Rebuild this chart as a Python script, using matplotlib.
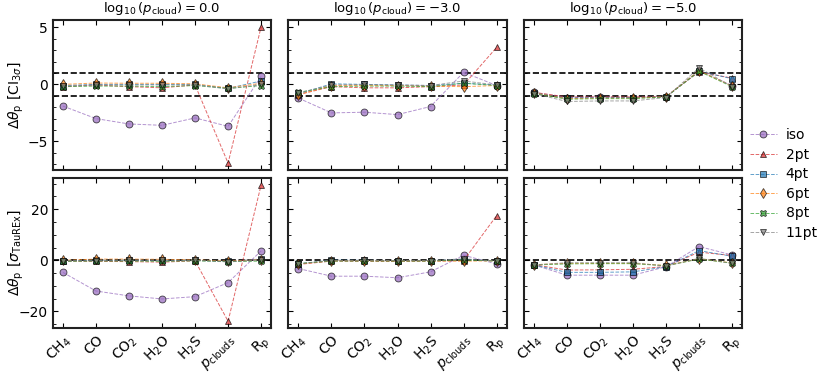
import numpy as np
import matplotlib
matplotlib.use("Agg")
import matplotlib.pyplot as plt
from matplotlib.ticker import AutoMinorLocator

# parameter names along the x axis
params = [r"CH$_4$", "CO", r"CO$_2$", r"H$_2$O", r"H$_2$S", r"$p_{\rm clouds}$", r"R$_{\rm p}$"]
cloud_levels = [0.0, -3.0, -5.0]

models = ["iso", "2pt", "4pt", "6pt", "8pt", "11pt"]
colors = ["tab:purple", "tab:red", "tab:blue", "tab:orange", "tab:green", "tab:gray"]
markers = ["o", "^", "s", "d", "X", "v"]

# offsets in units of the 3-sigma credible interval (top row)
ci_p0 = {
    "iso":  [-1.9, -3.0, -3.47, -3.59, -2.94, -3.68, 0.7],
    "2pt":  [-0.2, -0.05, -0.2, -0.3, -0.05, -6.9, 5.05],
    "4pt":  [-0.1, 0.0, 0.0, 0.0, 0.0, -0.35, 0.3],
    "6pt":  [0.0, 0.12, 0.1, 0.1, 0.05, -0.3, 0.1],
    "8pt":  [-0.2, -0.15, -0.15, -0.2, -0.1, -0.35, -0.1],
    "11pt": [-0.15, -0.05, -0.05, -0.05, -0.05, -0.4, 0.0],
}
ci_p3 = {
    "iso":  [-1.2, -2.5, -2.44, -2.65, -1.94, 1.06, -0.1],
    "2pt":  [-0.9, -0.2, -0.3, -0.3, -0.2, -0.05, 3.24],
    "4pt":  [-0.85, 0.05, 0.0, -0.05, -0.1, 0.1, -0.05],
    "6pt":  [-0.9, -0.1, -0.1, -0.1, -0.15, -0.2, -0.1],
    "8pt":  [-0.7, -0.2, -0.15, -0.15, -0.2, 0.1, -0.1],
    "11pt": [-0.75, -0.05, 0.0, -0.05, -0.1, 0.3, -0.05],
}
ci_p5 = {
    "iso":  [-0.7, -1.15, -1.1, -1.15, -1.1, 1.2, -0.1],
    "2pt":  [-0.7, -1.1, -1.1, -1.1, -1.05, 1.1, 0.55],
    "4pt":  [-0.75, -1.2, -1.15, -1.15, -1.1, 1.15, 0.5],
    "6pt":  [-0.75, -1.25, -1.2, -1.2, -1.1, 1.2, -0.15],
    "8pt":  [-0.8, -1.3, -1.25, -1.25, -1.1, 1.15, -0.2],
    "11pt": [-0.8, -1.5, -1.45, -1.45, -1.15, 1.45, -0.2],
}

# offsets in units of the TauREx sigma (bottom row)
sig_p0 = {
    "iso":  [-4.7, -12.0, -13.9, -15.1, -14.2, -8.7, 3.7],
    "2pt":  [-0.3, -0.4, -0.5, -0.7, -0.2, -23.8, 29.5],
    "4pt":  [-0.2, 0.1, 0.1, 0.1, 0.0, -0.4, 0.5],
    "6pt":  [0.0, 0.5, 0.5, 0.4, 0.2, -0.3, 0.3],
    "8pt":  [-0.4, -0.3, -0.3, -0.4, -0.2, -0.5, -0.3],
    "11pt": [-0.2, -0.1, 0.0, 0.0, 0.0, -0.6, 0.1],
}
sig_p3 = {
    "iso":  [-3.2, -6.2, -6.2, -6.8, -4.5, 2.0, -1.4],
    "2pt":  [-1.6, -0.3, -0.4, -0.4, -0.3, -0.1, 17.5],
    "4pt":  [-1.4, 0.1, 0.0, -0.1, -0.1, 0.3, -0.2],
    "6pt":  [-1.5, -0.1, -0.1, -0.2, -0.2, -0.3, -0.2],
    "8pt":  [-1.2, -0.3, -0.3, -0.3, -0.3, 0.2, -0.3],
    "11pt": [-1.3, -0.1, 0.0, -0.1, -0.1, 0.6, -0.3],
}
sig_p5 = {
    "iso":  [-1.8, -5.8, -5.8, -5.8, -2.5, 5.4, 2.1],
    "2pt":  [-1.7, -3.8, -3.7, -3.5, -2.4, 3.2, 1.9],
    "4pt":  [-1.8, -4.7, -4.7, -4.5, -2.5, 3.8, 1.6],
    "6pt":  [-1.7, -1.2, -1.2, -1.2, -2.0, 0.6, -1.0],
    "8pt":  [-1.8, -1.4, -1.3, -1.3, -2.1, 0.5, -1.1],
    "11pt": [-1.8, -0.9, -0.9, -0.9, -2.3, 0.8, -1.2],
}

top_row = [ci_p0, ci_p3, ci_p5]
bottom_row = [sig_p0, sig_p3, sig_p5]

plt.rcParams["font.size"] = 10
plt.rcParams["mathtext.fontset"] = "dejavusans"

fig, axes = plt.subplots(2, 3, figsize=(8.3, 3.72), dpi=100, sharex=True, sharey="row")
fig.subplots_adjust(left=53 / 830, right=742 / 830, top=1 - 20 / 372, bottom=1 - 328 / 372,
                    wspace=0.08, hspace=0.055)

x = np.arange(len(params))

for row, data_row in enumerate([top_row, bottom_row]):
    for col, data in enumerate(data_row):
        ax = axes[row, col]
        for m, c, mk in zip(models, colors, markers):
            ax.plot(x, data[m], ls="--", lw=0.7, color=c, alpha=0.7,
                    marker=mk, ms=5, mfc=c, mec="k", mew=0.6, label=m)
        if row == 0:
            ax.axhline(1, color="k", ls="--", lw=1.2, zorder=0)
            ax.axhline(-1, color="k", ls="--", lw=1.2, zorder=0)
            ax.set_title(r"$\log_{10}(p_{\rm cloud}) = %.1f$" % cloud_levels[col], fontsize=9.5)
        else:
            ax.axhline(0, color="k", ls="--", lw=1.2, zorder=0)
        ax.tick_params(direction="in", top=True, right=True, which="both")
        ax.yaxis.set_minor_locator(AutoMinorLocator())
        for s in ax.spines.values():
            s.set_linewidth(1.5)
            s.set_color("#222222")

axes[0, 0].set_yticks([-5, 0, 5])
axes[1, 0].set_yticks([-20, 0, 20])
axes[0, 0].set_ylabel(r"$\Delta\theta_{\rm p}\ [{\rm CI}_{3\sigma}]$")
axes[1, 0].set_ylabel(r"$\Delta\theta_{\rm p}\ [\sigma_{\rm TauREx}]$")
for ax in axes[:, 0]:
    ax.yaxis.set_label_coords(-0.125, 0.5)

for ax in axes[1]:
    ax.set_xticks(x)
    ax.set_xticklabels(params, rotation=45, ha="right", rotation_mode="anchor")

handles, labels = axes[0, 0].get_legend_handles_labels()
fig.legend(handles, labels, loc="center left", bbox_to_anchor=(737 / 830, 0.505),
           frameon=False, fontsize=10, handlelength=2.0, handletextpad=0.6,
           labelspacing=0.4)

fig.savefig("out.png", dpi=100)
